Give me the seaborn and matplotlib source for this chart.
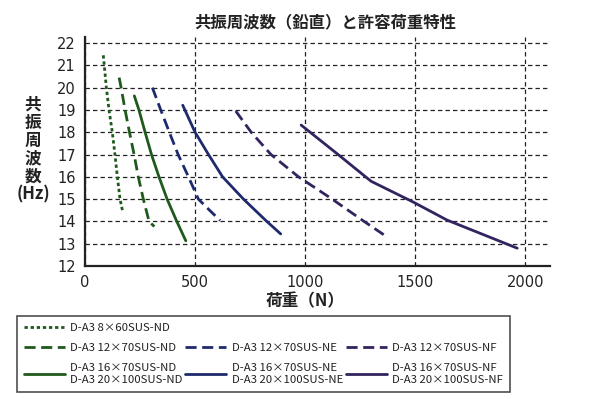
import matplotlib
matplotlib.use("Agg")
import matplotlib.pyplot as plt
import seaborn as sns
from matplotlib.lines import Line2D

# 荷重(N) と 共振周波数(Hz) の読み取り値
nd_8x60_x = [83, 97, 109, 124, 136, 147, 159, 171]
nd_8x60_y = [21.45, 20.0, 19.0, 18.0, 17.0, 16.0, 15.0, 14.45]

nd_12x70_x = [155, 164, 182, 202, 223, 242, 265, 291, 315]
nd_12x70_y = [20.45, 20.0, 19.0, 18.0, 17.0, 16.0, 15.0, 14.0, 13.77]

nd_16x70_x = [224, 245, 273, 302, 336, 373, 417, 458]
nd_16x70_y = [19.63, 19.0, 18.0, 17.0, 16.0, 15.0, 14.0, 13.13]

ne_12x70_x = [306, 344, 383, 423, 470, 515, 566, 614]
ne_12x70_y = [20.0, 19.0, 18.0, 17.0, 16.0, 15.0, 14.5, 14.04]

ne_16x70_x = [444, 500, 561, 625, 720, 826, 889]
ne_16x70_y = [19.21, 18.0, 17.0, 16.0, 15.0, 14.0, 13.44]

nf_12x70_x = [685, 755, 845, 970, 1123, 1268, 1373]
nf_12x70_y = [18.95, 18.0, 17.0, 16.0, 15.0, 14.0, 13.3]

nf_16x70_x = [982, 1150, 1300, 1491, 1645, 1964]
nf_16x70_y = [18.32, 17.0, 15.8, 14.87, 14.06, 12.8]

x_ticks = [0, 500, 1000, 1500, 2000]
y_ticks = list(range(12, 23))

green = "#1f5a1c"
navy = "#1f2a6e"
purple = "#33235f"

sns.set_style("white")
plt.rcParams['font.family'] = ['Noto Sans CJK JP', 'DejaVu Sans']

fig = plt.figure(figsize=(6, 3.99), dpi=100)
ax = fig.add_axes([0.1417, 0.3333, 0.775, 0.574])

dot = (0, (1.2, 1.0))
dash = (0, (4, 2))
sns.lineplot(x=nd_8x60_x, y=nd_8x60_y, ax=ax, color=green, lw=2, linestyle=dot, sort=False)
sns.lineplot(x=nd_12x70_x, y=nd_12x70_y, ax=ax, color=green, lw=2, linestyle=dash, sort=False)
sns.lineplot(x=nd_16x70_x, y=nd_16x70_y, ax=ax, color=green, lw=2, sort=False)
sns.lineplot(x=ne_12x70_x, y=ne_12x70_y, ax=ax, color=navy, lw=2, linestyle=dash, sort=False)
sns.lineplot(x=ne_16x70_x, y=ne_16x70_y, ax=ax, color=navy, lw=2, sort=False)
sns.lineplot(x=nf_12x70_x, y=nf_12x70_y, ax=ax, color=purple, lw=2, linestyle=dash, sort=False)
sns.lineplot(x=nf_16x70_x, y=nf_16x70_y, ax=ax, color=purple, lw=2, sort=False)

ax.set_xlim(0, 2113)
ax.set_ylim(12, 22.27)
ax.set_xticks(x_ticks)
ax.set_yticks(y_ticks)
ax.tick_params(axis='both', length=0, labelsize=10.5, colors='#222222', pad=6.5)
for lab in ax.get_xticklabels() + ax.get_yticklabels():
    lab.set_family('DejaVu Sans')
ax.grid(True, color='#222222', linestyle=(0, (3.5, 2.5)), linewidth=0.9)
for s in ['top', 'right']:
    ax.spines[s].set_visible(False)
for s in ['left', 'bottom']:
    ax.spines[s].set_color('#222222')
    ax.spines[s].set_linewidth(1.6)
ax.set_xlabel("")
ax.set_ylabel("")

fig.text(0.542, 0.945, "共振周波数（鉛直）と許容荷重特性", ha='center', va='center',
         fontsize=11.8, fontweight='bold', color='#222222')
fig.text(0.055, 0.625, "共\n振\n周\n波\n数\n(Hz)", ha='center', va='center',
         fontsize=12, fontweight='bold', color='#222222', linespacing=1.0)
fig.text(0.508, 0.245, "荷重（N）", ha='center', va='center',
         fontsize=12, fontweight='bold', color='#222222')

blank = Line2D([], [], color='none')
handles = [
    Line2D([], [], color=green, lw=2, linestyle=dot),
    Line2D([], [], color=green, lw=2, linestyle=dash),
    Line2D([], [], color=green, lw=2),
    blank,
    Line2D([], [], color=navy, lw=2, linestyle=dash),
    Line2D([], [], color=navy, lw=2),
    blank,
    Line2D([], [], color=purple, lw=2, linestyle=dash),
    Line2D([], [], color=purple, lw=2),
]
labels = [
    "D-A3 8×60SUS-ND",
    "D-A3 12×70SUS-ND",
    "D-A3 16×70SUS-ND\nD-A3 20×100SUS-ND",
    " ",
    "D-A3 12×70SUS-NE",
    "D-A3 16×70SUS-NE\nD-A3 20×100SUS-NE",
    " ",
    "D-A3 12×70SUS-NF",
    "D-A3 16×70SUS-NF\nD-A3 20×100SUS-NF",
]
leg = fig.legend(handles, labels, ncol=3, loc='upper left',
                 bbox_to_anchor=(0.028, 0.015, 0.822, 0.193), mode='expand',
                 fontsize=8.2, frameon=True, fancybox=False, handlelength=3.6,
                 handletextpad=0.5, labelspacing=0.9, columnspacing=1.0,
                 borderpad=0.6, borderaxespad=0)
leg.get_frame().set_edgecolor('#222222')
leg.get_frame().set_linewidth(1.2)
for t in leg.get_texts():
    t.set_color('#222222')
    t.set_linespacing(1.2)

fig.savefig("out.png", dpi=100)
